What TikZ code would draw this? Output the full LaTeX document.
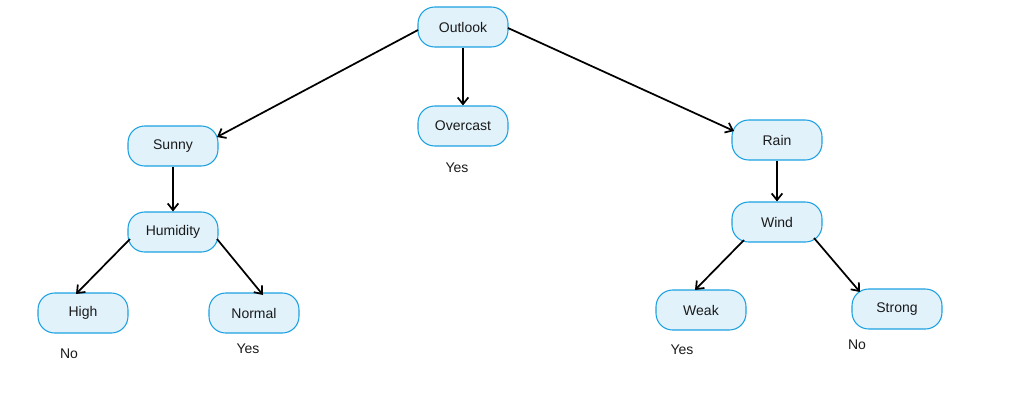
\documentclass[tikz,border=0pt]{standalone}
\usepackage{fontspec}
\setmainfont{Liberation Sans}
\usetikzlibrary{arrows.meta}
\definecolor{nodefill}{HTML}{E1F2FB}
\definecolor{nodeline}{HTML}{1BA1E2}
\definecolor{txt}{HTML}{1A1A1A}
\begin{document}
\begin{tikzpicture}[x=0.75pt,y=-0.75pt,
  box/.style={draw=nodeline,fill=nodefill,line width=0.8pt,rounded corners=12.5pt,
    minimum width=67.5pt,minimum height=30pt,inner sep=0pt,text=txt,
    font=\fontsize{10.5}{12}\selectfont},
  lab/.style={inner sep=0pt,text=txt,font=\fontsize{10.5}{12}\selectfont},
  arr/.style={-{Straight Barb[length=5pt,width=8pt]},line width=1.3pt,black}]
\useasboundingbox (0,0) rectangle (1010,411);
\node[box] (outlook) at (463,27) {Outlook};
\node[box] (sunny) at (173,146) {Sunny};
\node[box] (overcast) at (463,126) {Overcast};
\node[box] (rain) at (777,140) {Rain};
\node[box] (humidity) at (173,232) {Humidity};
\node[box] (wind) at (777,222) {Wind};
\node[box] (high) at (83,313) {High};
\node[box] (normal) at (254,313) {Normal};
\node[box] (weak) at (701,310) {Weak};
\node[box] (strong) at (897,309) {Strong};
\node[lab] (y1) at (457,168) {Yes};
\node[lab] (n1) at (69,354) {No};
\node[lab] (y2) at (248,349) {Yes};
\node[lab] (y3) at (682,350) {Yes};
\node[lab] (n2) at (857,345) {No};
\draw[arr] ([shift={(-45,3)}]outlook.center) -- ([shift={(44,-9)}]sunny.center);
\draw[arr] (outlook.south) -- (overcast.north);
\draw[arr] ([shift={(45,1)}]outlook.center) -- ([shift={(-43,-9)}]rain.center);
\draw[arr] (sunny.south) -- (humidity.north);
\draw[arr] ([shift={(-43,7)}]humidity.center) -- ([shift={(-7,-19)}]high.center);
\draw[arr] ([shift={(44,7)}]humidity.center) -- ([shift={(9,-18)}]normal.center);
\draw[arr] (rain.south) -- (wind.north);
\draw[arr] ([shift={(-33,18)}]wind.center) -- ([shift={(-6,-20)}]weak.center);
\draw[arr] ([shift={(37,16)}]wind.center) -- ([shift={(-37,-17)}]strong.center);
\end{tikzpicture}
\end{document}
